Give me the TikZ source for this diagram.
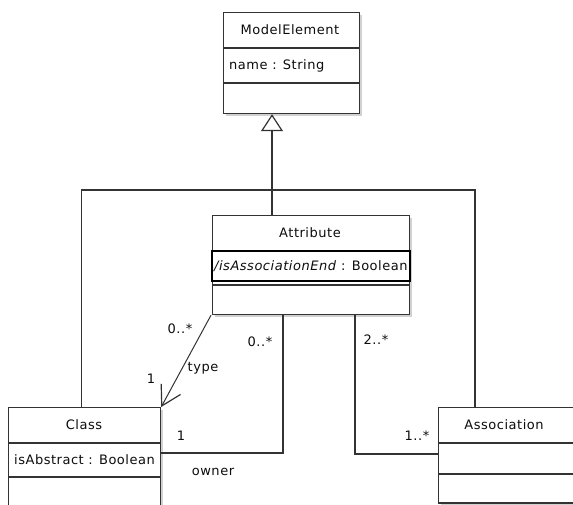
\documentclass[tikz,border=0pt]{standalone}
\usepackage{fontspec}
\setmainfont{DejaVu Sans}[LetterSpace=4]
\usetikzlibrary{arrows.meta,shadows}
\begin{document}
\begin{tikzpicture}[x=1pt,y=-1pt,
  ln/.style={draw=black!80, line width=1.6pt},
  thinln/.style={draw=black!80, line width=1pt},
  divl/.style={draw=black!80, line width=1.1pt},
  box/.style={draw=black!80, line width=1.2pt, fill=white, rectangle, inner sep=0pt, anchor=north west,
     drop shadow={shadow xshift=2.5pt, shadow yshift=-2.5pt, fill=black!18, opacity=1}},
  txt/.style={font=\fontsize{13}{15}\selectfont, text=black!95, inner sep=0pt}
]
\useasboundingbox (0,0) rectangle (573,505);
\clip (0,0) rectangle (573,505);

% boxes
\node[box, minimum width=136pt, minimum height=101pt] (me) at (223,12) {};
\node[box, minimum width=197pt, minimum height=99pt] (att) at (212,215) {};
\node[box, minimum width=152pt, minimum height=130pt] (cls) at (8,407) {};
\node[box, minimum width=180pt, minimum height=95pt] (asc) at (438,407) {};

% dividers
\draw[divl] (me.north west |- 0,48) -- (me.north east |- 0,48);
\draw[divl] (me.north west |- 0,83) -- (me.north east |- 0,83);
\draw[black, line width=2.2pt] (att.north west |- 0,251) rectangle (att.north east |- 0,281);
\draw[divl] (att.north west |- 0,285) -- (att.north east |- 0,285);
\draw[divl] (cls.north west |- 0,443) -- (cls.north east |- 0,443);
\draw[divl] (cls.north west |- 0,477) -- (cls.north east |- 0,477);
\draw[divl] (asc.north west |- 0,443) -- (asc.north east |- 0,443);
\draw[ln] (asc.north west |- 0,474) -- (asc.north east |- 0,474);
\draw[ln] (asc.south west) -- (asc.south east);

% texts
\node[txt] (meN) at (290,30) {ModelElement};
\node[txt, anchor=west] (meA) at (229,66) {name : String};
\node[txt] (attN) at (310,233) {Attribute};
\node[txt, anchor=west] (attA) at (214,266) {\textit{/isAssociationEnd} : Boolean};
\node[txt] (clsN) at (84,425) {Class};
\node[txt, anchor=west] (clsA) at (14,460) {isAbstract : Boolean};
\node[txt] (ascN) at (504,425) {Association};

% generalization
\coordinate (junction) at (272,190);
\draw[ln, -{Triangle[open, length=17pt, width=22pt, fill=white, line width=1.2pt]}] (junction |- att.north) -- (junction |- me.south);
\draw[ln] ([xshift=-3pt]cls.north) |- (junction) -| ([xshift=37pt]asc.north west);

% type
\draw[thinln, -{Straight Barb[angle=60:22pt, line width=1.2pt]}] ([xshift=-1pt]att.south west) -- (cls.north east);
\node[txt] (l1) at (180,329) {0..*};
\node[txt] (l2) at (203,368) {type};
\node[txt] (l3) at (151,379) {1};

% owner
\draw[ln] ([xshift=71pt]att.south west) |- ([yshift=-46pt]cls.north east);
\node[txt] (l4) at (260,342) {0..*};
\node[txt] (l5) at (181,436) {1};
\node[txt] (l6) at (213,472) {owner};

% association ends
\draw[ln] ([xshift=143pt]att.south west) |- ([yshift=-47pt]asc.north west);
\node[txt] (l7) at (376,340) {2..*};
\node[txt] (l8) at (417,436) {1..*};
\end{tikzpicture}
\end{document}
